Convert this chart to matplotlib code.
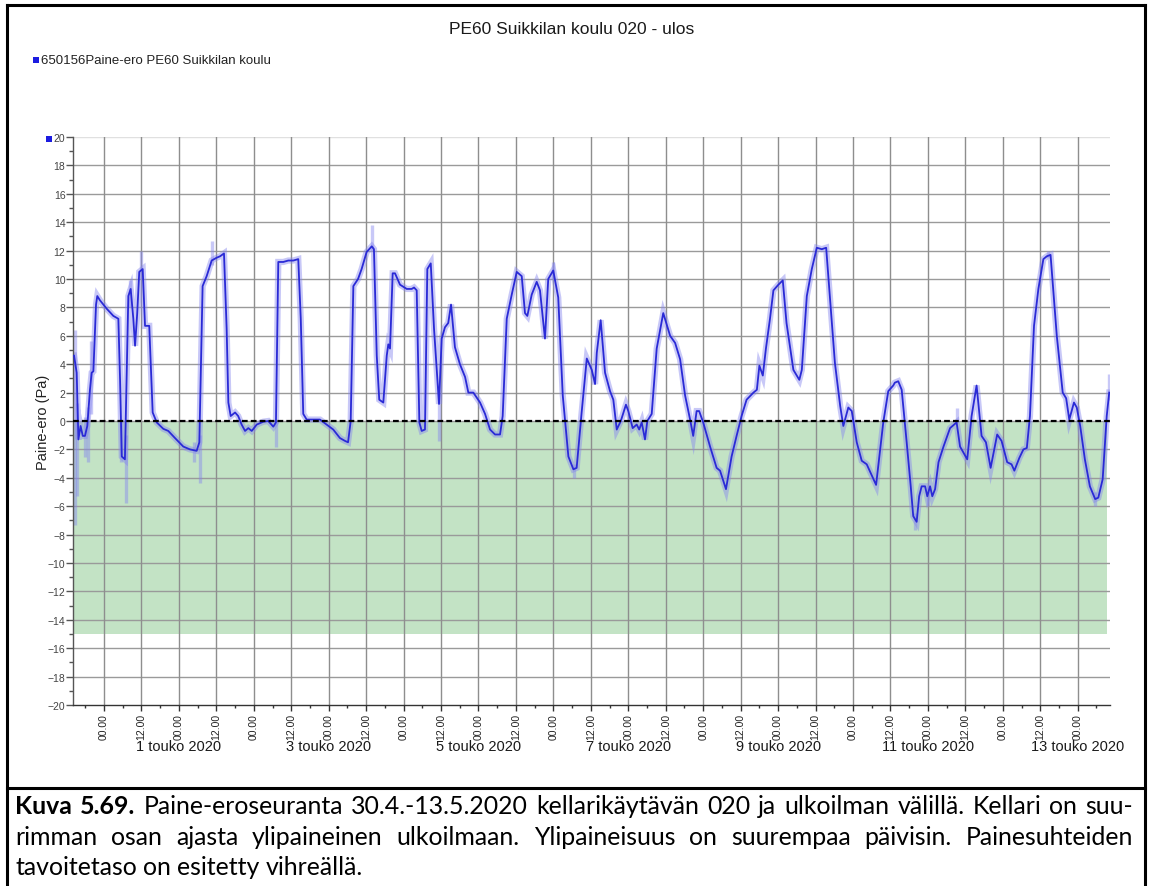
import numpy as np
import matplotlib
matplotlib.use("Agg")
import matplotlib.pyplot as plt
from matplotlib.ticker import MultipleLocator, FuncFormatter
from matplotlib.lines import Line2D
from matplotlib.patches import Rectangle
from matplotlib.transforms import IdentityTransform

# Pressure difference, hours counted from 2020-04-30 00:00
hours = [
    -9.6, -8.75, -8.2, -7.5, -6.8, -6.1, -5.35, -4.5, -3.95, -3.4, -2.55, -2.15, -1.3,
    0.9, 3.0, 4.6, 5.15, 5.7, 6.7, 7.8, 8.55, 9.4, 9.95, 10.65, 11.3, 12.4, 13.15, 14.5,
    15.6, 16.9, 19.0, 20.6, 22.75, 25.4, 27.55, 29.7, 30.55, 31.6, 32.9, 34.5, 36.1, 37.2,
    38.45, 39.3, 39.85, 40.6, 42.0, 43.0, 44.1, 45.2, 46.25, 47.35, 48.95, 51.05, 52.65,
    54.25, 55.1, 55.85, 57.45, 59.05, 60.65, 62.25, 63.05, 63.85, 64.95, 67.05, 69.2,
    71.35, 73.45, 75.6, 77.2, 78.2, 79.05, 79.9, 81.4, 82.55, 84.15, 85.8, 86.5, 87.4,
    88.2, 89.5, 90.6, 91.1, 91.65, 92.5, 93.25, 94.85, 97.0, 98.6, 99.35, 100.2, 101.05,
    101.8, 102.85, 103.6, 104.7, 105.75, 107.35, 108.2, 109.25, 110.3, 111.2, 112.45,
    114.05, 115.7, 116.75, 118.35, 120.5, 122.1, 123.7, 125.3, 126.9, 127.75, 129.05,
    130.65, 132.25, 133.85, 134.9, 135.65, 137.05, 138.65, 139.7, 141.3, 142.35, 143.95,
    145.55, 147.0, 148.8, 150.4, 151.45, 153.05, 154.7, 156.3, 157.35, 157.9, 159.15,
    160.55, 162.15, 163.2, 164.3, 165.6, 167.25, 168.0, 169.4, 170.7, 171.5, 172.3,
    173.35, 174.1, 175.5, 177.1, 179.2, 181.4, 183.0, 184.6, 186.2, 187.8, 188.8, 189.9,
    190.7, 192.0, 194.2, 196.3, 197.4, 199.3, 201.1, 202.7, 204.3, 205.9, 208.1, 209.2,
    210.0, 211.1, 212.1, 213.4, 214.5, 216.1, 217.5, 218.7, 220.9, 222.8, 223.6, 225.2,
    226.8, 228.4, 230.0, 231.4, 232.4, 234.2, 235.9, 236.9, 238.5, 239.6, 241.2, 242.8,
    244.4, 247.4, 248.6, 249.7, 251.3, 252.9, 253.4, 254.5, 255.6, 257.2, 258.5, 259.3,
    260.4, 261.2, 262.0, 263.1, 263.8, 264.7, 265.4, 266.3, 267.4, 269.0, 271.1, 273.2,
    274.3, 276.6, 278.0, 279.6, 281.2, 282.6, 284.1, 286.2, 287.6, 289.4, 290.8, 291.7,
    293.3, 294.6, 295.7, 296.7, 298.0, 299.4, 301.0, 302.1, 303.3, 305.3, 307.2, 308.3,
    309.3, 310.8, 311.7, 312.8, 314.3, 315.9, 317.6, 318.6, 320.0, 321.3, 322.1,
]
pressure_pa = [
    4.6, 3.4, -1.3, -0.35, -1.05, -1.05, -0.35, 2.2, 3.4, 3.5, 8.2, 8.8, 8.5,
    7.9, 7.4, 7.2, 2.9, -2.5, -2.7, 8.8, 9.3, 7.2, 5.3, 7.6, 10.5, 10.7, 6.7, 6.7,
    0.6, -0.1, -0.55, -0.7, -1.2, -1.8, -2.0, -2.1, -1.5, 9.5, 10.2, 11.3, 11.5, 11.6,
    11.8, 6.5, 1.3, 0.35, 0.6, 0.35, -0.25, -0.7, -0.5, -0.7, -0.25, -0.05, 0.0,
    -0.4, -0.1, 11.2, 11.2, 11.3, 11.3, 11.4, 7.2, 0.5, 0.1, 0.1, 0.1,
    -0.25, -0.6, -1.2, -1.4, -1.5, 0.0, 9.5, 10.0, 10.7, 11.9, 12.3, 12.1, 4.6,
    1.5, 1.3, 4.6, 5.4, 5.1, 10.4, 10.4, 9.6, 9.3, 9.3, 9.4, 9.2, -0.1,
    -0.7, -0.6, 10.7, 11.1, 6.5, 1.2, 5.8, 6.6, 6.9, 8.2, 5.2,
    4.0, 3.1, 2.0, 2.0, 1.3, 0.5, -0.6, -0.95, -0.95, 0.35, 7.2,
    8.9, 10.5, 10.2, 7.6, 7.4, 8.9, 9.8, 9.2, 5.8, 10.0, 10.6,
    8.7, 1.8, -2.5, -3.4, -3.3, 0.6, 4.4, 3.6, 2.6, 4.8, 7.1,
    3.4, 2.1, 1.5, -0.6, 0.0, 1.15, 0.7, -0.5, -0.25, -0.6, -0.1,
    -1.3, 0.0, 0.5, 5.1, 7.6, 6.0, 5.5, 4.35, 1.8, 0.1, -1.05, 0.7,
    0.7, -0.1, -1.8, -3.3, -3.5, -4.8, -2.5, -1.05, 0.35, 1.5, 2.0, 2.2,
    3.9, 3.2, 5.1, 7.2, 9.2, 9.6, 9.9, 6.9, 3.6, 2.9, 3.6, 8.8,
    10.7, 12.2, 12.1, 12.2, 9.3, 4.1, 1.05, -0.35, 0.95, 0.7, -1.5, -2.8,
    -3.05, -4.5, -2.2, -0.1, 2.1, 2.5, 2.7, 2.8, 2.2, -1.5, -4.6, -6.7,
    -7.1, -5.3, -4.6, -4.6, -5.3, -4.6, -5.3, -4.8, -2.9, -1.8, -0.5, -0.1,
    -1.8, -2.7, 0.35, 2.5, -1.05, -1.5, -3.3, -0.95, -1.4, -2.9, -3.05, -3.5,
    -2.6, -2.0, -1.9, 0.35, 6.7, 9.3, 11.4, 11.6, 11.7, 6.0, 2.0, 1.6,
    0.1, 1.3, 0.95, -0.35, -2.7, -4.6, -5.5, -5.4, -4.1, 0.35, 2.0,
]

# Short excursions of the raw readings around the averaged curve
spike_hours = [-9.4, -8.7, -6.2, -5.0, -4.3, 5.6, 6.9, 8.3, 12.0, 29.0, 30.9, 34.6,
               55.0, 86.0, 107.3, 143.9, 150.6, 260.0, 264.0, 273.4, 302.5, 317.6, 322.1]
spike_low = [-7.3, -5.3, -2.5, -2.9, 0.5, -2.9, -5.8, 8.0, 10.0, -2.9, -4.4, 11.0,
             -1.8, 12.0, -1.4, 10.0, -4.0, -7.7, -6.0, -0.1, 11.5, -6.0, 1.5]
spike_high = [6.4, 1.3, 0.3, 1.0, 5.6, 0.0, -1.0, 9.9, 12.0, -1.5, -1.0, 12.7,
              0.0, 13.8, 2.0, 11.2, -3.0, -6.5, -4.5, 0.9, 12.0, -5.0, 3.3]

# Target zone for the pressure relation
target_low, target_high = -15.0, 0.0
target_end_hour = 321.3

x_start, x_end = -9.93, 322.35
y_min, y_max = -20, 20

day_label_hours = [24, 72, 120, 168, 216, 264, 312]
day_labels = ["1 touko 2020", "3 touko 2020", "5 touko 2020", "7 touko 2020",
              "9 touko 2020", "11 touko 2020", "13 touko 2020"]

title_text = "PE60 Suikkilan koulu 020 - ulos"
legend_text = "650156Paine-ero PE60 Suikkilan koulu"
y_label = "Paine-ero (Pa)"

caption_lines = [
    "Kuva 5.69. Paine-eroseuranta 30.4.-13.5.2020 kellarikäytävän 020 ja ulkoilman välillä. Kellari on suu-",
    "rimman osan ajasta ylipaineinen ulkoilmaan. Ylipaineisuus on suurempaa päivisin. Painesuhteiden",
    "tavoitetaso on esitetty vihreällä.",
]

plt.rcParams['font.family'] = ['Liberation Sans', 'DejaVu Sans']

W, H = 1149, 887
fig = plt.figure(figsize=(W / 100, H / 100), dpi=100)
fig.patch.set_facecolor("white")


def fx(px):
    return px / W


def fy(py):
    return 1 - py / H


ax = fig.add_axes([fx(73), fy(706), (1110 - 73) / W, (706 - 138) / H])
ax.set_xlim(x_start, x_end)
ax.set_ylim(y_min, y_max)

line_color = "#2a2ad6"
band_color = "#8686ee"

# target zone
ax.fill_between([x_start, target_end_hour], target_low, target_high,
                color="#c3e3c5", lw=0, zorder=0.8)

# raw-reading band and spikes
ax.plot(hours, pressure_pa, color=band_color, lw=4.5, alpha=0.45,
        solid_joinstyle="miter", zorder=2)
ax.vlines(spike_hours, spike_low, spike_high, color=band_color, lw=2.4,
          alpha=0.45, zorder=2)
# averaged curve
ax.plot(hours, pressure_pa, color=line_color, lw=1.3, zorder=3)

# zero reference line
ax.axhline(0, color="black", lw=1.6, ls=(0, (2.6, 1.4)), zorder=4)

# grid
for v in range(y_min + 2, y_max + 1, 2):
    ax.axhline(v, color="#e0e0e0" if v == y_max else "#9a9a9a", lw=1.0, zorder=1.5)
for h in range(0, 313, 12):
    ax.axvline(h, color="#8e8e8e", lw=1.0, zorder=1.5)

# axes styling
for side in ("top", "right"):
    ax.spines[side].set_visible(False)
ax.spines["left"].set_color("#555555")
ax.spines["bottom"].set_color("#333333")
ax.spines["left"].set_linewidth(1.0)
ax.spines["bottom"].set_linewidth(1.0)

ax.yaxis.set_major_locator(MultipleLocator(2))
ax.yaxis.set_minor_locator(MultipleLocator(1))
ax.tick_params(axis="y", which="major", length=5, width=1, color="#555555",
               labelsize=7.5, labelcolor="#444444", pad=0.5)
ax.tick_params(axis="y", which="minor", length=3, width=1, color="#555555")

ax.xaxis.set_major_locator(MultipleLocator(12))
ax.xaxis.set_minor_locator(MultipleLocator(6))
ax.xaxis.set_major_formatter(FuncFormatter(lambda h, pos: f"{int(round(h)) % 24:02d}.00"))
ax.tick_params(axis="x", which="major", length=4, width=1, color="#333333",
               labelsize=7.5, labelcolor="#222222", pad=2.0)
ax.tick_params(axis="x", which="minor", length=2.5, width=1, color="#333333")
for lab in ax.get_xticklabels():
    lab.set_rotation(90)
    lab.set_rotation_mode("anchor")
    lab.set_ha("right")
    lab.set_va("center")

for h, lab in zip(day_label_hours, day_labels):
    ax.text(h, -0.072, lab, transform=ax.get_xaxis_transform(), ha="center",
            va="center", fontsize=10.5, color="#1a1a1a")

ax.text(-0.0289, 0.5, y_label, transform=ax.transAxes, rotation=90,
        ha="center", va="center", fontsize=10.5, color="#222222")

# title and series key
fig.text(fx(572), fy(30), title_text, ha="center", va="center", fontsize=12.5,
         color="#1a1a1a")
fig.patches.append(Rectangle((fx(33), fy(64)), 6 / W, 6 / H, transform=fig.transFigure,
                             color="#1c1ce0", lw=0))
fig.text(fx(41), fy(60.5), legend_text, ha="left", va="center", fontsize=9.5,
         color="#222222")
fig.patches.append(Rectangle((fx(46), fy(143)), 6 / W, 6 / H, transform=fig.transFigure,
                             color="#1c1ce0", lw=0))

# frame and caption separator
frame_kw = dict(color="black", lw=2.2, transform=fig.transFigure)
fig.lines.append(Line2D([fx(7), fx(7)], [fy(6), fy(890)], **frame_kw))
fig.lines.append(Line2D([fx(1145), fx(1145)], [fy(6), fy(890)], **frame_kw))
fig.lines.append(Line2D([fx(7), fx(1145)], [fy(6), fy(6)], **frame_kw))
fig.lines.append(Line2D([fx(7), fx(1145)], [fy(789), fy(789)], **frame_kw))

# caption, justified between the frame margins
renderer = fig.canvas.get_renderer()
cap_family = ["Lato", "DejaVu Sans"]
ident = IdentityTransform()

left_px, right_px = 15, 1133
baselines = [814, 845, 875]


def text_width(s, size, weight="normal"):
    t = fig.text(0, 0, s, fontsize=size, family=cap_family, fontweight=weight,
                 transform=ident)
    w = t.get_window_extent(renderer).width
    t.remove()
    return w


def natural_width(text, size, bold_words=0):
    words = text.split(" ")
    sp = text_width("a a", size) - text_width("aa", size)
    total = sum(text_width(w, size, "bold" if i < bold_words else "normal")
                for i, w in enumerate(words))
    return total + sp * (len(words) - 1), len(words) - 1, sp


# pick a size whose full lines only need a light stretch to fill the width
ref_size = 15.0
sizes = []
for line, bw in ((caption_lines[0], 2), (caption_lines[1], 0)):
    nat, ngaps, sp = natural_width(line, ref_size, bw)
    target = (right_px - left_px) - ngaps * 0.25 * sp
    sizes.append(ref_size * target / nat)
cap_size = min(sizes)
space_px = text_width("a a", cap_size) - text_width("aa", cap_size)


def place_line(text, base_y, justify, bold_words=0):
    words = text.split(" ")
    weights = ["bold" if i < bold_words else "normal" for i in range(len(words))]
    widths = [text_width(w, cap_size, wt) for w, wt in zip(words, weights)]
    gap = space_px
    if justify and len(words) > 1:
        gap = max(space_px * 0.6, (right_px - left_px - sum(widths)) / (len(words) - 1))
    x = left_px
    for w, wt, wd in zip(words, weights, widths):
        fig.text(x, H - base_y, w, fontsize=cap_size, family=cap_family,
                 fontweight=wt, va="baseline", ha="left", transform=ident,
                 color="black")
        x += wd + gap


place_line(caption_lines[0], baselines[0], True, bold_words=2)
place_line(caption_lines[1], baselines[1], True)
place_line(caption_lines[2], baselines[2], False)

fig.savefig("out.png", dpi=100, facecolor="white")
